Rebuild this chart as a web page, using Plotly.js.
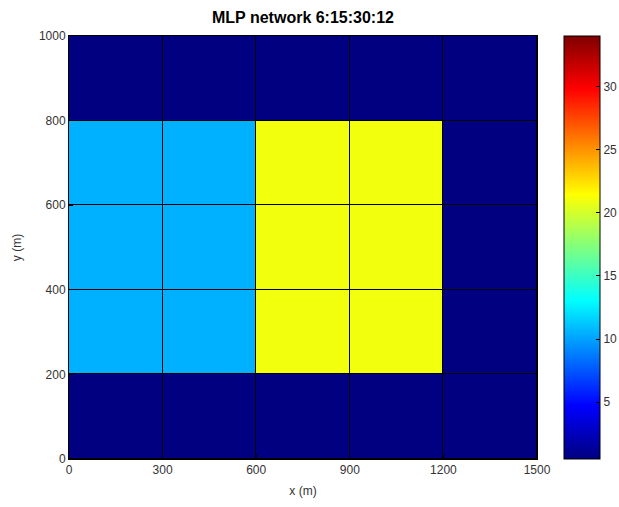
<!DOCTYPE html>
<html>
<head>
<meta charset="utf-8">
<script src="https://cdn.plot.ly/plotly-3.0.1.min.js"></script>
<style>html,body{margin:0;padding:0;background:#fff;}</style>
</head>
<body>
<div id="chart" style="width:619px;height:507px;"></div>
<script>
// Cell centres (m)
const xCenters = [150, 450, 750, 1050, 1350];
const yCenters = [100, 300, 500, 700, 900];
// Cell values, rows from bottom (y=0-200) to top (y=800-1000)
const row0 = [0.5, 0.5, 0.5, 0.5, 0.5];
const row1 = [10.5, 10.5, 21, 21, 0.5];
const row2 = [10.5, 10.5, 21, 21, 0.5];
const row3 = [10.5, 10.5, 21, 21, 0.5];
const row4 = [0.5, 0.5, 0.5, 0.5, 0.5];
const xTicks = [0, 300, 600, 900, 1200, 1500];
const yTicks = [0, 200, 400, 600, 800, 1000];
const cbTicks = [5, 10, 15, 20, 25, 30];

const jet = [
  [0, 'rgb(0,0,128)'], [0.125, 'rgb(0,0,255)'], [0.375, 'rgb(0,255,255)'],
  [0.625, 'rgb(255,255,0)'], [0.875, 'rgb(255,0,0)'], [1, 'rgb(128,0,0)']
];

const font = {family: 'Liberation Sans, Arial, sans-serif', size: 12, color: '#333'};

const trace = {
  type: 'heatmap',
  x: xCenters, y: yCenters,
  z: [row0, row1, row2, row3, row4],
  colorscale: jet, zmin: 0.5, zmax: 34,
  xgap: 1, ygap: 1,
  showscale: true,
  colorbar: {
    x: 1.0577, xanchor: 'left', xref: 'paper',
    y: 0, yanchor: 'bottom', len: 1, lenmode: 'fraction',
    thickness: 36, thicknessmode: 'pixels',
    outlinecolor: '#000', outlinewidth: 1,
    tickvals: cbTicks, ticks: 'inside', ticklen: 4, tickcolor: '#000',
    tickfont: font, xpad: 0, ypad: 0
  }
};

const layout = {
  width: 619, height: 507,
  margin: {l: 69, r: 82, t: 36, b: 48, autoexpand: false},
  paper_bgcolor: '#fff', plot_bgcolor: '#000',
  font: font,
  title: {text: '<b>MLP network 6:15:30:12</b>', x: 0.5, xref: 'paper', y: 0.966, yanchor: 'middle',
          font: {family: 'Liberation Sans, Arial, sans-serif', size: 16, color: '#000'}},
  xaxis: {range: [0, 1500], tickvals: xTicks, ticks: 'inside', ticklen: 4, tickcolor: '#000',
          showline: true, linecolor: '#000', mirror: true, showgrid: false, zeroline: false,
          title: {text: 'x (m)', standoff: 10, font: font}},
  yaxis: {range: [0, 1000], tickvals: yTicks, ticks: 'inside', ticklen: 4, tickcolor: '#000',
          showline: true, linecolor: '#000', mirror: true, showgrid: false, zeroline: false,
          title: {text: 'y (m)', standoff: 14, font: font}}
};

Plotly.newPlot('chart', [trace], layout, {displayModeBar: false, staticPlot: true});
</script>
</body>
</html>
